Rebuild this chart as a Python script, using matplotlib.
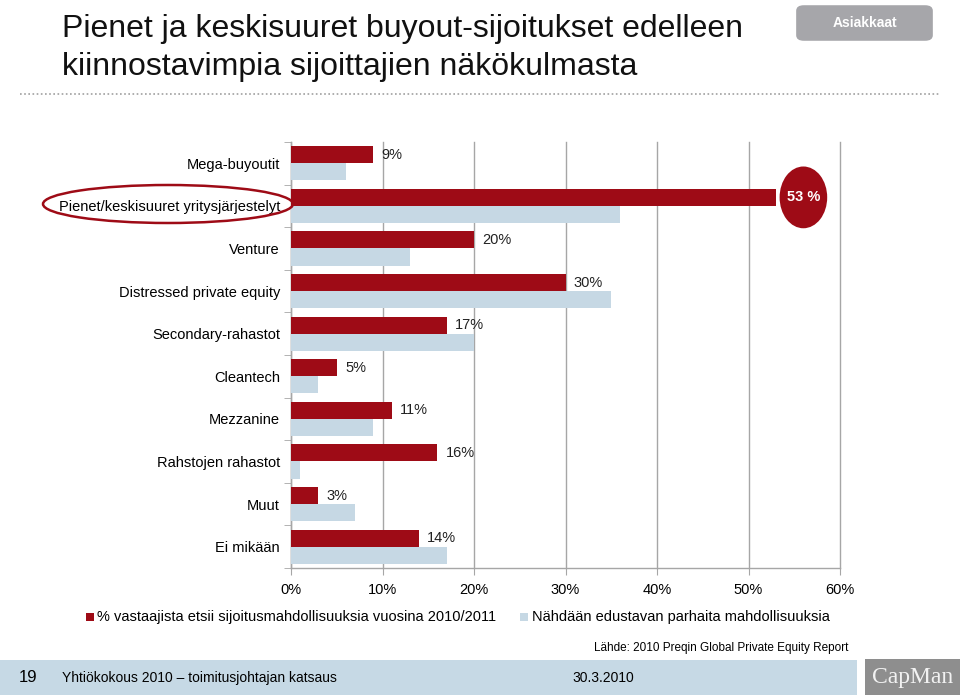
import matplotlib
matplotlib.use("Agg")
import matplotlib.pyplot as plt
from matplotlib import font_manager
from matplotlib.patches import Rectangle, Ellipse, FancyBboxPatch
from matplotlib.ticker import FixedLocator, PercentFormatter
import numpy as np

# ---- data ----
categories = ["Mega-buyoutit", "Pienet/keskisuuret yritysjärjestelyt", "Venture",
              "Distressed private equity", "Secondary-rahastot", "Cleantech",
              "Mezzanine", "Rahstojen rahastot", "Muut", "Ei mikään"]
seeking = [9, 53, 20, 30, 17, 5, 11, 16, 3, 14]
best_opportunities = [6, 36, 13, 35, 20, 3, 9, 1, 7, 17]
x_ticks = [0, 10, 20, 30, 40, 50, 60]
legend_labels = ["% vastaajista etsii sijoitusmahdollisuuksia vuosina 2010/2011",
                 "Nähdään edustavan parhaita mahdollisuuksia"]
title_lines = ["Pienet ja keskisuuret buyout-sijoitukset edelleen",
               "kiinnostavimpia sijoittajien näkökulmasta"]
highlight_index = 1

RED = "#9E0B16"
BLUE = "#C6D8E4"
GRID = "#A6A6A6"


def has_font(name):
    try:
        font_manager.findfont(font_manager.FontProperties(family=name), fallback_to_default=False)
        return True
    except Exception:
        return False


base_font = "Liberation Sans" if has_font("Liberation Sans") else "DejaVu Sans"
title_font = "Liberation Sans Narrow" if has_font("Liberation Sans Narrow") else base_font
serif_font = "Liberation Serif" if has_font("Liberation Serif") else "DejaVu Serif"
plt.rcParams["font.family"] = [base_font, "DejaVu Sans"]

W, H = 960, 695
fig = plt.figure(figsize=(W / 100, H / 100), dpi=100)


def fx(x):
    return x / W


def fy(y):
    return 1 - y / H


ax = fig.add_axes([fx(291), fy(568), fx(840) - fx(291), fy(142) - fy(568)])

n = len(categories)
y = np.arange(n)
bh = 0.4
ax.barh(y - bh / 2, seeking, height=bh, color=RED, zorder=3)
ax.barh(y + bh / 2, best_opportunities, height=bh, color=BLUE, zorder=3)

ax.set_xlim(0, 60)
ax.set_ylim(n - 0.5, -0.5)
ax.xaxis.set_major_locator(FixedLocator(x_ticks))
ax.xaxis.set_major_formatter(PercentFormatter(decimals=0))
ax.set_yticks(y)
ax.set_yticklabels(categories)
ax.yaxis.set_minor_locator(FixedLocator(np.arange(-0.5, n, 1.0)))
ax.tick_params(axis="y", which="major", length=0, pad=8, labelsize=10.5)
ax.tick_params(axis="y", which="minor", length=5, color=GRID, direction="out")
ax.tick_params(axis="x", which="major", length=5, color=GRID, direction="out",
               labelsize=10.5, pad=6)
ax.grid(axis="x", color=GRID, linewidth=1, zorder=0)
for gl in ax.get_xgridlines():
    gl.set_clip_on(False)
for s in ["top", "right"]:
    ax.spines[s].set_visible(False)
for s in ["left", "bottom"]:
    ax.spines[s].set_color(GRID)
    ax.spines[s].set_linewidth(1)

# value labels
for i, v in enumerate(seeking):
    if i == highlight_index:
        e = Ellipse((v + 3.0, i - bh / 2), width=5.2, height=1.45, facecolor=RED,
                    edgecolor="none", zorder=5, clip_on=False)
        ax.add_patch(e)
        ax.text(v + 3.0, i - bh / 2, f"{v} %", ha="center", va="center",
                color="white", fontsize=10.5, fontweight="bold", zorder=6)
    else:
        ax.text(v + 0.9, i - bh / 2, f"{v}%", ha="left", va="center",
                fontsize=10.5, color="#222222", zorder=6)

# ellipse around highlighted label
fig.add_artist(Ellipse((fx(168), fy(204)), width=250 / W, height=38 / H,
                       transform=fig.transFigure, facecolor="none",
                       edgecolor=RED, linewidth=1.8))

# title
fig.text(fx(62), fy(29), title_lines[0], fontsize=23, family=title_font,
         va="center", ha="left", color="#111111")
fig.text(fx(62), fy(67), title_lines[1], fontsize=23, family=title_font,
         va="center", ha="left", color="#111111")

# dotted line
fig.add_artist(plt.Line2D([fx(20), fx(940)], [fy(94), fy(94)], transform=fig.transFigure,
                          color="#A0A0A0", linewidth=1.2, linestyle=(0, (1, 1.5))))

# badge
fig.add_artist(FancyBboxPatch((fx(800), fy(38)), fx(929) - fx(800), fy(8) - fy(38),
                              boxstyle="round,pad=0.004,rounding_size=0.008",
                              transform=fig.transFigure, facecolor="#A6A6AA",
                              edgecolor="none"))
fig.text(fx(865), fy(23), "Asiakkaat", color="white", fontsize=10, fontweight="bold",
         ha="center", va="center")

# legend
fig.add_artist(Rectangle((fx(86), fy(621)), 8 / W, 8 / H, transform=fig.transFigure,
                         facecolor=RED, edgecolor="none"))
fig.text(fx(97), fy(617), legend_labels[0], fontsize=10.5, ha="left", va="center")
fig.add_artist(Rectangle((fx(520), fy(621)), 8 / W, 8 / H, transform=fig.transFigure,
                         facecolor=BLUE, edgecolor="none"))
fig.text(fx(532), fy(617), legend_labels[1], fontsize=10.5, ha="left", va="center")

# source
fig.text(fx(848), fy(648), "Lähde: 2010 Preqin Global Private Equity Report",
         fontsize=8.5, ha="right", va="center")

# footer
fig.add_artist(Rectangle((0, 0), fx(857), fy(660), transform=fig.transFigure,
                         facecolor="#C6D9E5", edgecolor="none"))
fig.add_artist(Rectangle((fx(865), 0), 1 - fx(865), fy(659), transform=fig.transFigure,
                         facecolor="#8E8E8E", edgecolor="none"))
fig.text(fx(28), fy(678), "19", fontsize=12, ha="center", va="center")
fig.text(fx(62), fy(678), "Yhtiökokous 2010 – toimitusjohtajan katsaus", fontsize=10,
         ha="left", va="center")
fig.text(fx(572), fy(678), "30.3.2010", fontsize=10, ha="left", va="center")
fig.text(fx(913), fy(678), "CapMan", fontsize=17, family=serif_font, color="#F2F2F2",
         ha="center", va="center")

fig.savefig("out.png", dpi=100)
